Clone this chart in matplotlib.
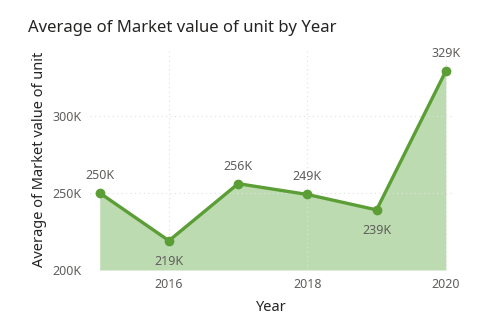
import matplotlib.pyplot as plt
from matplotlib.ticker import FuncFormatter

years = [2015, 2016, 2017, 2018, 2019, 2020]
avg_value = [250, 219, 256, 249, 239, 329]  # thousands
label_pos = ['above', 'below', 'above', 'above', 'below', 'above']

green = '#5B9E35'
fill_green = '#BDDBB1'
grey = '#605E5C'

plt.rcParams['font.family'] = ['Noto Sans', 'DejaVu Sans']

fig = plt.figure(figsize=(4.85, 3.3), dpi=100)
ax = fig.add_axes([0.1856, 0.1818, 0.7464, 0.6727])

ax.fill_between(years, avg_value, 200, color=fill_green, lw=0)
ax.plot(years, avg_value, '-o', color=green, lw=2.4, ms=6)

for x, v, p in zip(years, avg_value, label_pos):
	dy = 8 if p == 'above' else -10
	ax.annotate(f'{v}K', (x, v), xytext=(0, dy), textcoords='offset points',
		ha='center', va='bottom' if p == 'above' else 'top', fontsize=9, color=grey)

ax.set_xlim(2014.86, 2020.09)
ax.set_ylim(200, 344)
ax.set_xticks([2016, 2018, 2020])
ax.set_yticks([200, 250, 300])
ax.yaxis.set_major_formatter(FuncFormatter(lambda v, _: f'{int(v)}K'))
ax.tick_params(length=0, labelsize=9, colors=grey, pad=6)
ax.grid(True, color='#E1E1E1', ls=(0, (1, 3)), lw=0.8)
for s in ax.spines.values():
	s.set_visible(False)

ax.set_xlabel('Year', fontsize=10.5, color='#252423', labelpad=6)
ax.set_ylabel('Average of Market value of unit', fontsize=10.5, color='#252423', labelpad=4)
fig.text(28 / 485, 1 - 28 / 330, 'Average of Market value of unit by Year',
	fontsize=12, color='#252423', va='center', ha='left')

fig.savefig('out.png', dpi=100)
